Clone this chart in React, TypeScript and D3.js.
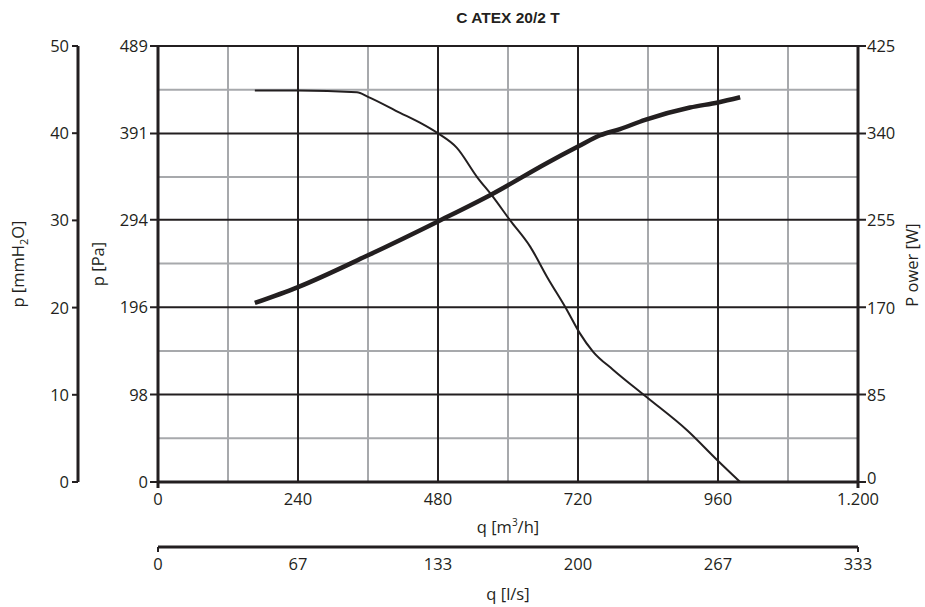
import React from "react";
import * as d3 from "d3";

const title = "C ATEX 20/2 T";
const qTicks = [0, 240, 480, 720, 960, 1200];
const qTickLabels = ["0", "240", "480", "720", "960", "1.200"];
const qMinor = [120, 360, 600, 840, 1080];
const lsTickLabels = ["0", "67", "133", "200", "267", "333"];
const paTicks = [0, 98, 196, 294, 391, 489];
const paMinor = [49, 147, 245, 342, 440];
const mmTicks = [0, 10, 20, 30, 40, 50];
const wTicks = [0, 85, 170, 255, 340, 425];

const pressQ = [166, 240, 341, 360, 415, 449, 480, 512, 547, 574, 603, 638, 667, 701, 723, 746, 780, 838, 907, 958, 998];
const pressPa = [439, 439, 437, 432, 414, 403, 391, 375, 342, 320, 294, 264, 230, 193, 167, 146, 126, 95, 58, 25, 0];

const powerQ = [166, 240, 360, 480, 574, 667, 720, 758, 792, 835, 912, 960, 998];
const powerW = [174.5, 190, 221, 254, 281, 311, 327, 338, 344, 353, 365, 370, 375];

const FONT = "'Open Sans', 'Liberation Sans', Arial, sans-serif";
const DARK = "#231f20";
const GRAY = "#a7a9ac";

export default function App() {
  const x0 = 158, x1 = 858, yTop = 46, yBot = 482;
  const x = d3.scaleLinear().domain([0, 1200]).range([x0, x1]);
  const yPa = d3.scaleLinear().domain([0, 489]).range([yBot, yTop]);
  const yMm = d3.scaleLinear().domain([0, 50]).range([yBot, yTop]);
  const yW = d3.scaleLinear().domain([0, 425]).range([yBot, yTop]);

  const pressLine = d3.line<number>().x((d, i) => x(pressQ[i])).y((d) => yPa(d)).curve(d3.curveMonotoneX)(pressPa) || "";
  const powerLine = d3.line<number>().x((d, i) => x(powerQ[i])).y((d) => yW(d)).curve(d3.curveMonotoneX)(powerW) || "";

  const mmX = 78;
  const lsY = 547;
  const fs = 16.5;

  return (
    <svg width={925} height={607} style={{ position: "absolute", left: 0, top: 0, background: "#fff" }} fontFamily={FONT}>
      <rect width={925} height={607} fill="#fff" />
      <text x={508} y={23} textAnchor="middle" fontFamily="'Liberation Sans', Arial, sans-serif" fontWeight="bold" fontSize={15.5} fill={DARK}>{title}</text>

      {/* minor grid */}
      {qMinor.map((q) => (
        <line key={"vm" + q} x1={x(q)} x2={x(q)} y1={yTop} y2={yBot} stroke={GRAY} strokeWidth={2} />
      ))}
      {paMinor.map((p) => (
        <line key={"hm" + p} x1={x0} x2={x1} y1={yPa(p)} y2={yPa(p)} stroke={GRAY} strokeWidth={2} />
      ))}
      {/* major grid */}
      {qTicks.map((q) => (
        <line key={"vM" + q} x1={x(q)} x2={x(q)} y1={yTop} y2={yBot} stroke={DARK} strokeWidth={2} />
      ))}
      {paTicks.map((p) => (
        <line key={"hM" + p} x1={x0 - 8} x2={x1 + 8} y1={yPa(p)} y2={yPa(p)} stroke={DARK} strokeWidth={2} />
      ))}
      <line x1={x0} x2={x1} y1={yBot} y2={yBot} stroke={DARK} strokeWidth={3} />
      <line x1={x0} x2={x0} y1={yTop} y2={yBot + 6} stroke={DARK} strokeWidth={3} />
      <line x1={x1} x2={x1} y1={yTop} y2={yBot + 6} stroke={DARK} strokeWidth={3} />

      {/* curves */}
      <path d={pressLine} fill="none" stroke={DARK} strokeWidth={2} />
      <path d={powerLine} fill="none" stroke={DARK} strokeWidth={4.5} />

      {/* Pa labels */}
      {paTicks.map((p) => (
        <text key={"pl" + p} x={x0 - 10} y={yPa(p)} dy="0.36em" textAnchor="end" fontSize={fs} fill={DARK}>{p}</text>
      ))}
      <text transform={`translate(104,${(yTop + yBot) / 2}) rotate(-90)`} textAnchor="middle" fontSize={fs} fill={DARK}>p [Pa]</text>

      {/* mmH2O axis */}
      <line x1={mmX} x2={mmX} y1={yTop} y2={yBot} stroke={DARK} strokeWidth={3} />
      {mmTicks.map((m) => (
        <g key={"mm" + m}>
          <line x1={mmX - 6} x2={mmX} y1={yMm(m)} y2={yMm(m)} stroke={DARK} strokeWidth={2} />
          <text x={mmX - 9} y={yMm(m)} dy="0.36em" textAnchor="end" fontSize={fs} fill={DARK}>{m}</text>
        </g>
      ))}
      <text transform={`translate(24,${(yTop + yBot) / 2}) rotate(-90)`} textAnchor="middle" fontSize={fs} fill={DARK}>
        p [mmH<tspan fontSize={11} dy={4}>2</tspan><tspan dy={-4}>O]</tspan>
      </text>

      {/* Power axis */}
      {wTicks.map((w) => (
        <text key={"w" + w} x={x1 + 9} y={w === 0 ? yW(w) - 4 : yW(w)} dy="0.36em" textAnchor="start" fontSize={fs} fill={DARK}>{w}</text>
      ))}
      <text transform={`translate(918,${265}) rotate(-90)`} textAnchor="middle" fontSize={fs} fill={DARK}>P ower [W]</text>

      {/* q m3/h labels */}
      {qTicks.map((q, i) => (
        <text key={"ql" + q} x={x(q)} y={505} textAnchor="middle" fontSize={fs} fill={DARK}>{qTickLabels[i]}</text>
      ))}
      <text x={508} y={533} textAnchor="middle" fontSize={fs} fill={DARK}>
        q [m<tspan fontSize={10} dy={-7}>3</tspan><tspan dy={7}>/h]</tspan>
      </text>

      {/* l/s axis */}
      <line x1={x0} x2={x1} y1={lsY} y2={lsY} stroke={DARK} strokeWidth={3} />
      <line x1={x0} x2={x0} y1={lsY} y2={lsY + 5} stroke={DARK} strokeWidth={2} />
      <line x1={x1} x2={x1} y1={lsY} y2={lsY + 5} stroke={DARK} strokeWidth={2} />
      {qTicks.map((q, i) => (
        <text key={"ls" + q} x={x(q)} y={570} textAnchor="middle" fontSize={fs} fill={DARK}>{lsTickLabels[i]}</text>
      ))}
      <text x={508} y={600} textAnchor="middle" fontSize={fs} fill={DARK}>q [l/s]</text>
    </svg>
  );
}
